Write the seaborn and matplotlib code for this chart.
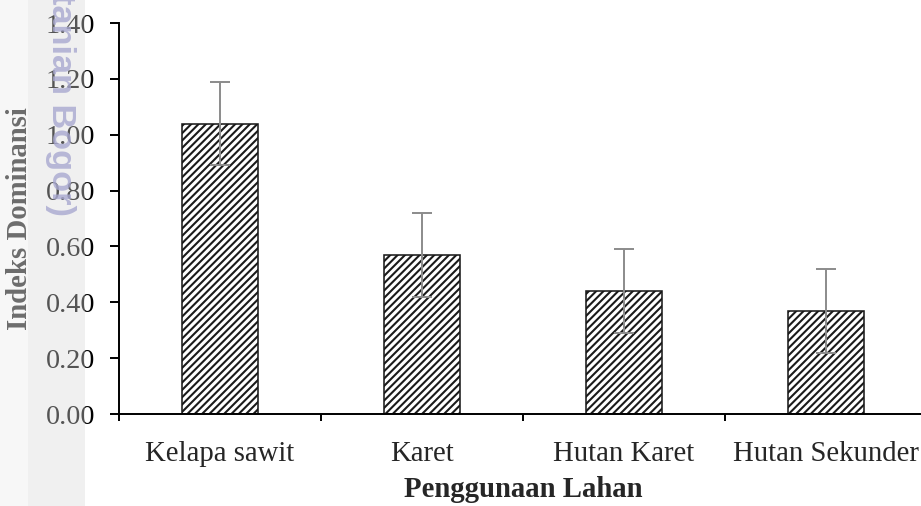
import matplotlib
matplotlib.use("Agg")
import matplotlib.pyplot as plt
from matplotlib.patches import Rectangle
import seaborn as sns
import pandas as pd

categories = ["Kelapa sawit", "Karet", "Hutan Karet", "Hutan Sekunder"]
values = [1.04, 0.57, 0.44, 0.37]
errors = [0.15, 0.15, 0.15, 0.15]
y_ticks = [0.0, 0.2, 0.4, 0.6, 0.8, 1.0, 1.2, 1.4]
y_label = "Indeks Dominansi"
x_label = "Penggunaan Lahan"

sns.set_style("white")
plt.rcParams["font.family"] = ["Liberation Serif", "DejaVu Serif"]
plt.rcParams["hatch.linewidth"] = 1.7

DPI = 88
W, H = 921, 506
fig = plt.figure(figsize=(W / DPI, H / DPI), dpi=DPI)
ax = fig.add_axes([119 / W, 1 - 414 / H, 808 / W, 391 / H])

df = pd.DataFrame({"cat": categories, "val": values})
sns.barplot(data=df, x="cat", y="val", ax=ax, width=0.38, color="white",
            edgecolor="black", linewidth=1.3, errorbar=None)
for p in ax.patches:
    p.set_hatch("////")
    p.set_edgecolor("#1a1a1a")
    p.set_facecolor("white")

ax.errorbar(range(len(categories)), values, yerr=errors, fmt="none",
            ecolor="#8c8c8c", elinewidth=1.6, capsize=8, capthick=1.6, zorder=5)

ax.set_ylim(0, 1.4)
ax.set_xlim(-0.5, len(categories) - 0.5)
ax.set_yticks(y_ticks)
ax.set_yticklabels([f"{t:.2f}" for t in y_ticks], fontsize=23, color="black")
ax.set_xticks([i - 0.5 for i in range(len(categories) + 1)])
ax.set_xticklabels([])
ax.set_xticks(range(len(categories)), minor=True)
ax.set_xticklabels(categories, minor=True, fontsize=23.5)
ax.tick_params(axis="x", which="major", direction="out", length=6, width=1.6,
               color="black", bottom=True)
ax.tick_params(axis="x", which="minor", length=0, pad=22)
ax.tick_params(axis="y", direction="out", length=7, width=1.6, color="black",
               left=True, pad=12.5)

for s in ["top", "right"]:
    ax.spines[s].set_visible(False)
for s in ["left", "bottom"]:
    ax.spines[s].set_color("black")
    ax.spines[s].set_linewidth(1.6)

ax.set_ylabel(y_label, fontsize=23.5, fontweight="bold")
ax.yaxis.set_label_coords((33 - 119) / 808, 0.5)
ax.set_xlabel(x_label, fontsize=23.5, fontweight="bold")
ax.xaxis.set_label_coords(0.5, (414 - 476) / 391)

# scanned-document watermark strip on the left
fig.add_artist(Rectangle((0, 0), 28 / W, 1, transform=fig.transFigure,
                         facecolor="#eaeaea", alpha=0.36, edgecolor="none", zorder=10))
fig.add_artist(Rectangle((28 / W, 0), 57 / W, 1, transform=fig.transFigure,
                         facecolor="#d9d9d9", alpha=0.39, edgecolor="none", zorder=10))
fig.text(60 / W, 1 - 216 / H, "Pertanian Bogor)", rotation=270, ha="center", va="bottom",
         fontsize=28, fontweight="bold", color="#a8a8d0", alpha=0.8,
         family="Liberation Sans", zorder=11)

fig.savefig("out.png", dpi=DPI)
